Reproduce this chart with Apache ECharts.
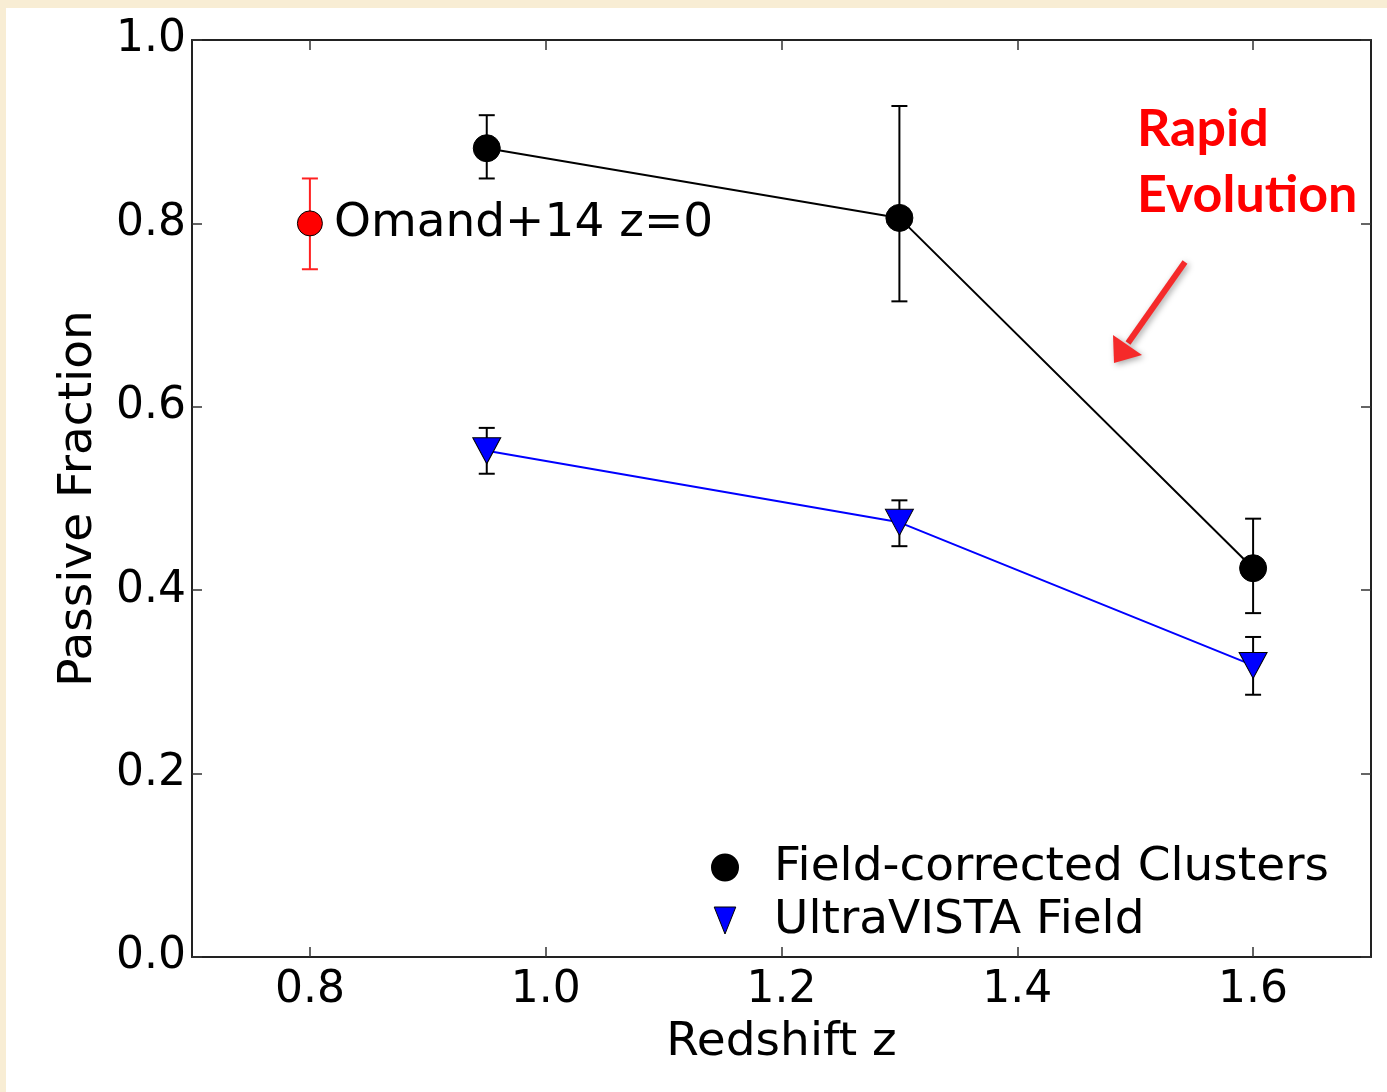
<!DOCTYPE html>
<html>
<head>
<meta charset="utf-8">
<script src="https://cdn.jsdelivr.net/npm/echarts@6/dist/echarts.min.js"></script>
<style>
  html, body { margin: 0; padding: 0; background: #f8edd4; }
  #paper { position: absolute; left: 6px; top: 8px; width: 1381px; height: 1084px; background: #ffffff; }
  #chart { position: absolute; left: 0; top: 0; width: 1387px; height: 1092px; }
</style>
</head>
<body>
<div id="paper"></div>
<div id="chart"></div>
<script>
// Passive fraction vs redshift
const redshift = [0.95, 1.3, 1.6];

const clusterFrac = [0.882, 0.806, 0.424];
const clusterLow  = [0.849, 0.715, 0.375];
const clusterHigh = [0.918, 0.928, 0.478];

const fieldFrac = [0.552, 0.474, 0.318];
const fieldLow  = [0.527, 0.448, 0.286];
const fieldHigh = [0.577, 0.498, 0.349];

const localZ = [0.8];
const localFrac = [0.800];
const localLow  = [0.750];
const localHigh = [0.849];

const xTicks = [0.8, 1.0, 1.2, 1.4, 1.6];
const yTicks = [0.0, 0.2, 0.4, 0.6, 0.8, 1.0];

const FONT = 'DejaVu Sans';

function pairs(xs, ys) { return xs.map((x, i) => [x, ys[i]]); }
function bars(xs, lo, hi) { return xs.map((x, i) => [x, lo[i], hi[i]]); }

function errorBarSeries(data, color, width) {
  return {
    type: 'custom',
    silent: true,
    z: 1,
    data: data,
    renderItem: function (params, api) {
      const x = api.value(0);
      const lo = api.coord([x, api.value(1)]);
      const hi = api.coord([x, api.value(2)]);
      const cap = 8;
      const style = { stroke: color, lineWidth: width };
      return {
        type: 'group',
        children: [
          { type: 'line', shape: { x1: lo[0], y1: lo[1], x2: hi[0], y2: hi[1] }, style: style },
          { type: 'line', shape: { x1: lo[0] - cap, y1: lo[1], x2: lo[0] + cap, y2: lo[1] }, style: style },
          { type: 'line', shape: { x1: hi[0] - cap, y1: hi[1], x2: hi[0] + cap, y2: hi[1] }, style: style }
        ]
      };
    }
  };
}

const tickStyle = { color: '#333', width: 1.5 };
const axisLineStyle = { color: '#222', width: 2 };

const chart = echarts.init(document.getElementById('chart'), null, { renderer: 'canvas' });

chart.setOption({
  backgroundColor: 'transparent',
  animation: false,
  grid: { left: 192, top: 40, right: 16, bottom: 135 },
  xAxis: [
    {
      type: 'value', position: 'bottom', min: 0.7, max: 1.7,
      name: 'Redshift z', nameLocation: 'middle', nameGap: 62,
      nameTextStyle: { fontFamily: FONT, fontSize: 47, color: '#000' },
      axisLine: { show: true, onZero: false, lineStyle: axisLineStyle },
      axisTick: { show: true, inside: true, length: 10, lineStyle: tickStyle, customValues: xTicks },
      axisLabel: { show: true, margin: 12, fontFamily: FONT, fontSize: 44, color: '#000',
                   customValues: xTicks, formatter: v => v.toFixed(1) },
      splitLine: { show: false }
    },
    {
      type: 'value', position: 'top', min: 0.7, max: 1.7,
      axisLine: { show: true, onZero: false, lineStyle: axisLineStyle },
      axisTick: { show: true, inside: true, length: 10, lineStyle: tickStyle, customValues: xTicks },
      axisLabel: { show: false },
      splitLine: { show: false }
    }
  ],
  yAxis: [
    {
      type: 'value', position: 'left', min: 0, max: 1,
      name: 'Passive Fraction', nameLocation: 'middle', nameGap: 90,
      nameTextStyle: { fontFamily: FONT, fontSize: 47, color: '#000' },
      axisLine: { show: true, onZero: false, lineStyle: axisLineStyle },
      axisTick: { show: true, inside: true, length: 10, lineStyle: tickStyle, customValues: yTicks },
      axisLabel: { show: true, margin: 6, fontFamily: FONT, fontSize: 44, color: '#000',
                   customValues: yTicks, formatter: v => v.toFixed(1) },
      splitLine: { show: false }
    },
    {
      type: 'value', position: 'right', min: 0, max: 1,
      axisLine: { show: true, onZero: false, lineStyle: axisLineStyle },
      axisTick: { show: true, inside: true, length: 10, lineStyle: tickStyle, customValues: yTicks },
      axisLabel: { show: false },
      splitLine: { show: false }
    }
  ],
  legend: {
    orient: 'vertical',
    left: 711, top: 844,
    padding: 0,
    itemWidth: 26, itemHeight: 27,
    itemGap: 6,
    textStyle: { fontFamily: FONT, fontSize: 47, color: '#000', padding: [0, 0, 0, 31] },
    data: [
      { name: 'Field-corrected Clusters', icon: 'circle', itemStyle: { color: '#000', borderColor: '#000' } },
      { name: 'UltraVISTA Field', icon: 'path://M0,0 L8,0 L4,10 Z', itemStyle: { color: '#0000ff', borderColor: '#000', borderWidth: 1 } }
    ]
  },
  graphic: [
    {
      type: 'text', left: 1137, top: 96,
      style: { text: 'Rapid\nEvolution', fontFamily: 'Lato', fontWeight: 'bold', fontSize: 52,
               lineHeight: 66, fill: '#ff0000' }
    },
    {
      type: 'group',
      children: [
        { type: 'line', shape: { x1: 1185, y1: 262, x2: 1128, y2: 343 },
          style: { stroke: '#f52a2a', lineWidth: 6, shadowBlur: 6, shadowColor: 'rgba(0,0,0,0.35)', shadowOffsetX: 2, shadowOffsetY: 2 } },
        { type: 'polygon', shape: { points: [[1113, 335], [1142, 355], [1114, 363]] },
          style: { fill: '#f52a2a', shadowBlur: 6, shadowColor: 'rgba(0,0,0,0.35)', shadowOffsetX: 2, shadowOffsetY: 2 } }
      ]
    }
  ],
  series: [
    errorBarSeries(bars(redshift, clusterLow, clusterHigh), '#000', 2),
    errorBarSeries(bars(redshift, fieldLow, fieldHigh), '#000', 2),
    errorBarSeries(bars(localZ, localLow, localHigh), '#ff2020', 2),
    {
      name: 'Field-corrected Clusters',
      type: 'line', z: 3,
      data: pairs(redshift, clusterFrac),
      lineStyle: { color: '#000', width: 2 },
      symbol: 'circle', symbolSize: 27,
      itemStyle: { color: '#000', borderColor: '#000', borderWidth: 1, opacity: 1 }
    },
    {
      name: 'UltraVISTA Field',
      type: 'line', z: 3,
      data: pairs(redshift, fieldFrac),
      lineStyle: { color: '#0000ff', width: 2 },
      symbol: 'triangle', symbolRotate: 180, symbolSize: [28, 26],
      itemStyle: { color: '#0000ff', borderColor: '#000', borderWidth: 1, opacity: 1 }
    },
    {
      name: 'Omand+14',
      type: 'scatter', z: 3,
      data: pairs(localZ, localFrac),
      symbol: 'circle', symbolSize: 25,
      itemStyle: { color: '#ff0000', borderColor: '#000', borderWidth: 1, opacity: 1 },
      label: { show: true, position: 'right', distance: 11, formatter: 'Omand+14 z=0',
               fontFamily: FONT, fontSize: 47, color: '#000', opacity: 1 }
    }
  ]
});
</script>
</body>
</html>
